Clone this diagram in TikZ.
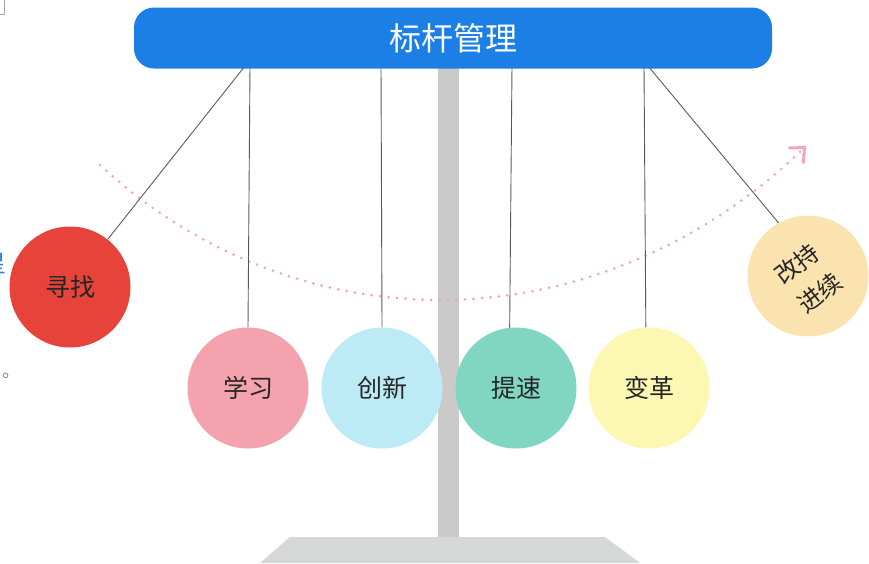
\documentclass[tikz,border=0pt]{standalone}
\usepackage{fontspec}
\setmainfont{Noto Sans CJK SC}
\usetikzlibrary{arrows.meta}
\definecolor{barblue}{HTML}{1B7FE6}
\definecolor{cred}{HTML}{E6433A}
\definecolor{cpink}{HTML}{F4A3AE}
\definecolor{ccyan}{HTML}{BCEBF6}
\definecolor{cteal}{HTML}{80D6C1}
\definecolor{cyellow}{HTML}{FCF8B3}
\definecolor{corange}{HTML}{FAE3AE}
\definecolor{polegray}{HTML}{CACACA}
\definecolor{basegray}{HTML}{D5D8D7}
\definecolor{stringgray}{HTML}{5A5A5A}
\definecolor{dotpink}{HTML}{F3A6B8}
\definecolor{textdark}{HTML}{262626}
\definecolor{fragblue}{HTML}{2A7DE1}
\begin{document}
\begin{tikzpicture}[x=1pt,y=-1pt,
  ball/.style={circle,minimum size=121pt,inner sep=0pt,text=textdark,
    font=\fontsize{25}{29}\selectfont},
  balltext/.style={rotate=38,text=textdark,inner sep=0pt,
    font=\fontsize{24}{28}\selectfont},
  barbox/.style={rounded corners=20pt,fill=barblue,text=white,
    minimum width=638pt,minimum height=61pt,inner sep=0pt,
    font=\fontsize{32}{36}\selectfont},
  stringline/.style={draw=stringgray,line width=0.9pt},
  dotarc/.style={draw=dotpink,line width=3pt,line cap=round,
    dash pattern=on 0pt off 8.5pt,
    -{Straight Barb[length=11pt,width=20pt,line width=3pt,line cap=round]}},
]
\useasboundingbox (0,0) rectangle (869,563);
% clipped fragments at the left edge
\begin{scope}
\clip (0,0) rectangle (869,563);
\draw[draw=gray!70,line width=0.8pt] (-10,-2) rectangle (4.5,14);
\node[text=fragblue,font=\fontsize{24}{28}\selectfont,inner sep=0pt] (frag1) at (-5,264) {星};
\node[text=gray,font=\fontsize{18}{20}\selectfont,inner sep=0pt] (frag2) at (11,376) {。};
\end{scope}
% pole and base
\fill[polegray] (438,66) rectangle (459,540);
\fill[basegray] (290,537) -- (605,537) -- (640,563) -- (260,563) -- cycle;
% dotted swing arc
\draw[dotarc] (100,165) .. controls (300,350) and (600,345) .. (806,146);
% attachment points on the bar
\coordinate (s1) at (245,66);
\coordinate (s2) at (250,66);
\coordinate (s3) at (381,66);
\coordinate (s4) at (512,66);
\coordinate (s5) at (644,66);
\coordinate (s6) at (648,66);
% balls
\node[ball,fill=cred] (c1) at (70,287) {寻找};
\node[ball,fill=cpink] (c2) at (248,388) {学习};
\node[ball,fill=ccyan] (c3) at (382,388) {创新};
\node[ball,fill=cteal] (c4) at (516,388) {提速};
\node[ball,fill=cyellow] (c5) at (649,388) {变革};
\node[ball,fill=corange] (c6) at (808,276) {};
\node[balltext] (t6a) at (797,264) {改持};
\node[balltext] (t6b) at (820,293) {进续};
% strings
\draw[stringline] (s1) -- (c1);
\draw[stringline] (s2) -- (c2.north);
\draw[stringline] (s3) -- (c3.north);
\draw[stringline] (s4) -- (c4.96);
\draw[stringline] (s5) -- (c5.93);
\draw[stringline] (s6) -- (c6.119);
% top bar
\node[barbox] (bar) at (453,38) {标杆管理};
\end{tikzpicture}
\end{document}
